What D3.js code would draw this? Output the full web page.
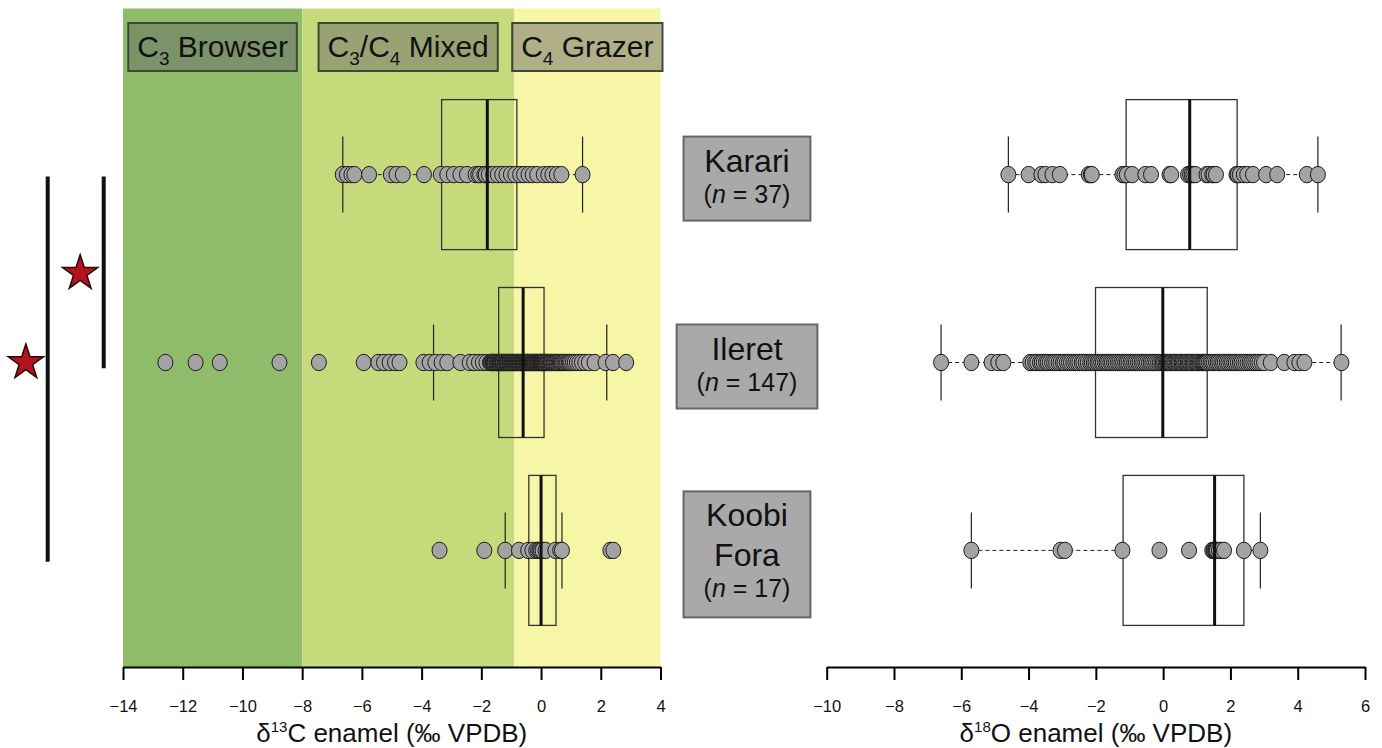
<!DOCTYPE html>
<html>
<head>
<meta charset="utf-8">
<script src="https://cdn.jsdelivr.net/npm/d3@7"></script>
<style>
  body { margin: 0; background: #fff; }
  text { font-family: "Liberation Sans", Arial, Helvetica, sans-serif; fill: #111; }
</style>
</head>
<body>
<svg id="chart" width="1382" height="748"></svg>
<script>
// sites and sample sizes
const sites = ["Karari", "Ileret", "Koobi Fora"];
const siteLines = [["Karari"], ["Ileret"], ["Koobi", "Fora"]];
const siteN = [37, 147, 17];

// diet zones on the carbon axis
const zoneBreaks = [-14, -8, -0.9, 4];
const zoneColors = ["#8fbc6b", "#c6da7c", "#f7f5a6"];
const zoneLabels = [
    [["C", 0], ["3", 1], [" Browser", 0]],
    [["C", 0], ["3", 1], ["/C", 0], ["4", 1], [" Mixed", 0]],
    [["C", 0], ["4", 1], [" Grazer", 0]]
];

const carbonTicks = [-14, -12, -10, -8, -6, -4, -2, 0, 2, 4];
const oxygenTicks = [-10, -8, -6, -4, -2, 0, 2, 4, 6];

// d13C enamel values
const carbonKarari = [-6.64, -6.5, -6.35, -6.25, -5.76, -5.03, -4.84, -4.63, -3.92, -3.36, -3.14, -2.92, -2.7, -2.48,
    -2.19, -2.1, -2.04, -1.9, -1.85, -1.75, -1.6, -1.45, -1.3, -1.16, -1.01, -0.86, -0.7,
    -0.57, -0.42, -0.28, -0.13, 0.09, 0.24, 0.38, 0.53, 0.68, 1.39];
const carbonIleret = [-12.58, -11.57, -10.76, -8.76, -7.44, -5.94, -5.45, -5.26, -5.07, -4.89, -4.74,
    -3.94, -3.73, -3.54, -3.33, -3.14, -2.7, -2.39, -2.24, -2.08, -1.95, -1.83,
    -1.71, -1.68, -1.67, -1.63, -1.62, -1.59, -1.57, -1.55, -1.54, -1.5, -1.48, -1.47, -1.44, -1.41, -1.39,
    -1.37, -1.35, -1.34, -1.31, -1.29, -1.27, -1.26, -1.22, -1.2, -1.19, -1.16, -1.14, -1.12, -1.1, -1.07,
    -1.05, -1.04, -1.01, -0.98, -0.97, -0.94, -0.92, -0.9, -0.88, -0.85, -0.83, -0.81, -0.79, -0.77, -0.75,
    -0.72, -0.7, -0.68, -0.66, -0.63, -0.61, -0.58,
    -0.56, -0.54, -0.53, -0.5, -0.48, -0.46, -0.45, -0.42, -0.4, -0.38, -0.36, -0.35, -0.32, -0.3, -0.28,
    -0.26, -0.25, -0.22, -0.2, -0.19, -0.16, -0.14, -0.12, -0.1, -0.09, -0.06, -0.04, -0.02, 0.0, 0.01,
    0.03, 0.05, 0.07, 0.08, 0.1, 0.12, 0.13,
    0.16, 0.19, 0.21, 0.24, 0.27, 0.3, 0.33, 0.35, 0.38, 0.42, 0.45, 0.48, 0.52, 0.55, 0.59, 0.63, 0.66,
    0.7, 0.74, 0.78, 0.83, 0.87, 0.92, 0.96, 1.01, 1.07, 1.13, 1.2, 1.28, 1.37, 1.48,
    1.6, 1.79, 2.16, 2.41, 2.85];
const carbonKoobi = [-3.4, -1.9, -1.2, -0.74, -0.43, -0.29, -0.16, -0.1, -0.05, 0.0, 0.05, 0.15, 0.48, 0.64, 0.7, 2.32, 2.42];

// d18O enamel values
const oxygenKarari = [-4.6, -4.0, -3.62, -3.5, -3.29, -3.07, -2.21, -2.15, -2.12, -1.21, -1.15, -1.08, -0.92,
    -0.53, -0.36, 0.19, 0.24, 0.74, 0.8, 0.85, 0.9, 0.96, 1.29, 1.35, 1.46, 1.5, 1.57, 2.18, 2.22, 2.28,
    2.4, 2.5, 2.67, 3.06, 3.39, 4.27, 4.6];
const oxygenIleret = [-6.6, -5.7, -5.1, -4.9, -4.75,
    -3.95, -3.88, -3.8, -3.74, -3.66, -3.61, -3.55, -3.48, -3.43, -3.37, -3.3, -3.24, -3.18, -3.11, -3.05,
    -2.98, -2.93, -2.86, -2.8, -2.74, -2.67, -2.61, -2.55, -2.49, -2.42, -2.37, -2.3, -2.24, -2.17, -2.12, -2.06, -2.01,
    -1.95, -1.9, -1.84, -1.79, -1.73, -1.68, -1.63, -1.57, -1.52, -1.46, -1.41, -1.35, -1.3, -1.24, -1.19,
    -1.13, -1.08, -1.03, -0.97, -0.92, -0.86, -0.81, -0.75, -0.7, -0.64, -0.59, -0.53, -0.48, -0.42, -0.37,
    -0.32, -0.26, -0.21, -0.15, -0.1, -0.05, -0.01,
    0.03, 0.07, 0.11, 0.14, 0.18, 0.22, 0.25, 0.29, 0.33, 0.36, 0.4, 0.44, 0.47, 0.51, 0.55, 0.58, 0.62,
    0.66, 0.69, 0.73, 0.77, 0.8, 0.84, 0.88, 0.91, 0.95, 0.99, 1.02, 1.06, 1.09, 1.13, 1.16, 1.19, 1.22,
    1.25, 1.28, 1.31,
    1.36, 1.41, 1.46, 1.51, 1.57, 1.62, 1.67, 1.73, 1.78, 1.83, 1.89, 1.94, 2.0, 2.05, 2.11, 2.16, 2.22,
    2.28, 2.33, 2.39, 2.45, 2.51, 2.57, 2.62, 2.68, 2.74, 2.8, 2.86, 2.93, 3.0,
    3.2, 3.6, 3.9, 4.05, 4.2, 5.3];
const oxygenKoobi = [-5.7, -3.05, -2.92, -1.21, -0.11, 0.77, 1.46, 1.5, 1.52, 1.55, 1.57, 1.6, 1.66, 1.72, 1.81, 2.4, 2.89];

// boxplot summaries: lower whisker, Q1, median, Q3, upper whisker
const carbonLow = [-6.64, -3.6, -1.2];
const carbonQ1 = [-3.33, -1.42, -0.41];
const carbonMedian = [-1.8, -0.6, 0.0];
const carbonQ3 = [-0.81, 0.1, 0.5];
const carbonHigh = [1.39, 2.2, 0.7];

const oxygenLow = [-4.6, -6.6, -5.7];
const oxygenQ1 = [-1.1, -2.01, -1.19];
const oxygenMedian = [0.79, -0.01, 1.53];
const oxygenQ3 = [2.2, 1.31, 2.4];
const oxygenHigh = [4.6, 5.29, 2.89];

// stratigraphic ranges (row units) and stars
const rangeColumn = [0, 1];
const rangeFrom = [0.01, 0.01];
const rangeTo = [2.06, 1.03];
const starColumn = [0.58, -0.39];
const starRow = [0.525, 1.0];

const svg = d3.select("#chart");
const axisY = 667, plotTop = 8.5;

const xC = d3.scaleLinear().domain([-14, 4]).range([123, 660.5]);
const xO = d3.scaleLinear().domain([-10, 6]).range([826.7, 1365]);
const y = d3.scaleLinear().domain([0, 2]).range([174.6, 550.4]);
const colX = d3.scaleLinear().domain([0, 1]).range([47.7, 103.7]);

// zone backgrounds
svg.append("g").selectAll("rect").data(zoneColors).join("rect")
    .attr("x", (d, i) => xC(zoneBreaks[i]))
    .attr("width", (d, i) => xC(zoneBreaks[i + 1]) - xC(zoneBreaks[i]))
    .attr("y", plotTop).attr("height", axisY - plotTop)
    .attr("fill", d => d);

// zone labels
zoneLabels.forEach((parts, i) => {
    let cx = (xC(zoneBreaks[i]) + xC(zoneBreaks[i + 1])) / 2;
    let g = svg.append("g");
    let rect = g.append("rect");
    let t = g.append("text").attr("x", cx).attr("y", 57).attr("text-anchor", "middle").style("font-size", "30px");
    let shifted = false;
    parts.forEach(p => {
        let ts = t.append("tspan").text(p[0]);
        if (p[1] && !shifted) { ts.attr("dy", 8).style("font-size", "19px"); shifted = true; }
        else if (!p[1] && shifted) { ts.attr("dy", -8); shifted = false; }
    });
    let w = t.node().getComputedTextLength() + 18;
    rect.attr("x", cx - w / 2).attr("y", 23).attr("width", w).attr("height", 48)
        .attr("fill", "rgba(105,105,105,0.5)").attr("stroke", "#3d4a33").attr("stroke-width", 2);
});

function drawBoxes(x, values, lo, q1, med, q3, hi) {
    let g = svg.append("g");
    sites.forEach((s, i) => {
        let cy = y(i);
        g.append("line").attr("x1", x(lo[i])).attr("x2", x(q1[i])).attr("y1", cy).attr("y2", cy)
            .attr("stroke", "#222").attr("stroke-width", 1).attr("stroke-dasharray", "4,3");
        g.append("line").attr("x1", x(q3[i])).attr("x2", x(hi[i])).attr("y1", cy).attr("y2", cy)
            .attr("stroke", "#222").attr("stroke-width", 1).attr("stroke-dasharray", "4,3");
        [lo[i], hi[i]].forEach(v => {
            g.append("line").attr("x1", x(v)).attr("x2", x(v)).attr("y1", cy - 38).attr("y2", cy + 38)
                .attr("stroke", "#222").attr("stroke-width", 1.2);
        });
        g.append("rect").attr("x", x(q1[i])).attr("width", x(q3[i]) - x(q1[i]))
            .attr("y", cy - 75).attr("height", 150)
            .attr("fill", "none").attr("stroke", "#333").attr("stroke-width", 1.3);
        g.selectAll(null).data(values[i]).join("ellipse")
            .attr("cx", d => x(d)).attr("cy", cy).attr("rx", 7.5).attr("ry", 8.2)
            .attr("fill", "#a3a3a3").attr("stroke", "#1a1a1a").attr("stroke-width", 1);
        g.append("line").attr("x1", x(med[i])).attr("x2", x(med[i])).attr("y1", cy - 75).attr("y2", cy + 75)
            .attr("stroke", "#111").attr("stroke-width", 3);
    });
}

drawBoxes(xC, [carbonKarari, carbonIleret, carbonKoobi], carbonLow, carbonQ1, carbonMedian, carbonQ3, carbonHigh);
drawBoxes(xO, [oxygenKarari, oxygenIleret, oxygenKoobi], oxygenLow, oxygenQ1, oxygenMedian, oxygenQ3, oxygenHigh);

// axes
function drawAxis(x, ticks, title, sup, rest) {
    let ax = svg.append("g").attr("transform", `translate(0,${axisY})`)
        .call(d3.axisBottom(x).tickValues(ticks).tickSize(13).tickSizeOuter(0).tickPadding(20));
    ax.select(".domain").attr("stroke", "#000").attr("stroke-width", 2);
    ax.selectAll(".tick line").attr("stroke", "#000").attr("stroke-width", 2);
    ax.selectAll(".tick text").style("font-size", "16.5px").style("font-family", "'Liberation Sans', Arial, sans-serif").attr("fill", "#111");
    let r = x.range();
    let t = svg.append("text").attr("x", (r[0] + r[1]) / 2).attr("y", 742)
        .attr("text-anchor", "middle").style("font-size", "26px");
    t.append("tspan").text(title);
    t.append("tspan").text(sup).attr("dy", -10).style("font-size", "15px");
    t.append("tspan").text(rest).attr("dy", 10);
}
drawAxis(xC, carbonTicks, "\u03b4", "13", "C enamel (\u2030 VPDB)");
drawAxis(xO, oxygenTicks, "\u03b4", "18", "O enamel (\u2030 VPDB)");

// site labels
siteLines.forEach((lines, i) => {
    let g = svg.append("g");
    let rect = g.append("rect");
    let cx = 747;
    let h = 84 + 42 * (lines.length - 1);
    let top = y(i) + 4 - h / 2;
    let widths = [];
    lines.forEach((l, j) => {
        let t = g.append("text").attr("x", cx).attr("y", top + 35 + 40 * j)
            .attr("text-anchor", "middle").style("font-size", "32px").text(l);
        widths.push(t.node().getComputedTextLength());
    });
    let nt = g.append("text").attr("x", cx).attr("y", top + 35 + 40 * (lines.length - 1) + 31)
        .attr("text-anchor", "middle").style("font-size", "25px");
    nt.append("tspan").text("(");
    nt.append("tspan").text("n").style("font-style", "italic");
    nt.append("tspan").text(" = " + siteN[i] + ")");
    widths.push(nt.node().getComputedTextLength());
    let w = d3.max(widths) + 40;
    rect.attr("x", cx - w / 2).attr("y", top).attr("width", w).attr("height", h)
        .attr("fill", "#a9a9a9").attr("stroke", "#666").attr("stroke-width", 2);
});

// stratigraphic ranges and stars
svg.append("g").selectAll("line").data(rangeColumn).join("line")
    .attr("x1", d => colX(d)).attr("x2", d => colX(d))
    .attr("y1", (d, i) => y(rangeFrom[i])).attr("y2", (d, i) => y(rangeTo[i]))
    .attr("stroke", "#111").attr("stroke-width", 4);

svg.append("g").selectAll("path").data(starColumn).join("path")
    .attr("d", d3.symbol().type(d3.symbolStar).size(385))
    .attr("transform", (d, i) => `translate(${colX(d)},${y(starRow[i])})`)
    .attr("fill", "#b3131b").attr("stroke", "#2a0808").attr("stroke-width", 1.5);
</script>
</body>
</html>
